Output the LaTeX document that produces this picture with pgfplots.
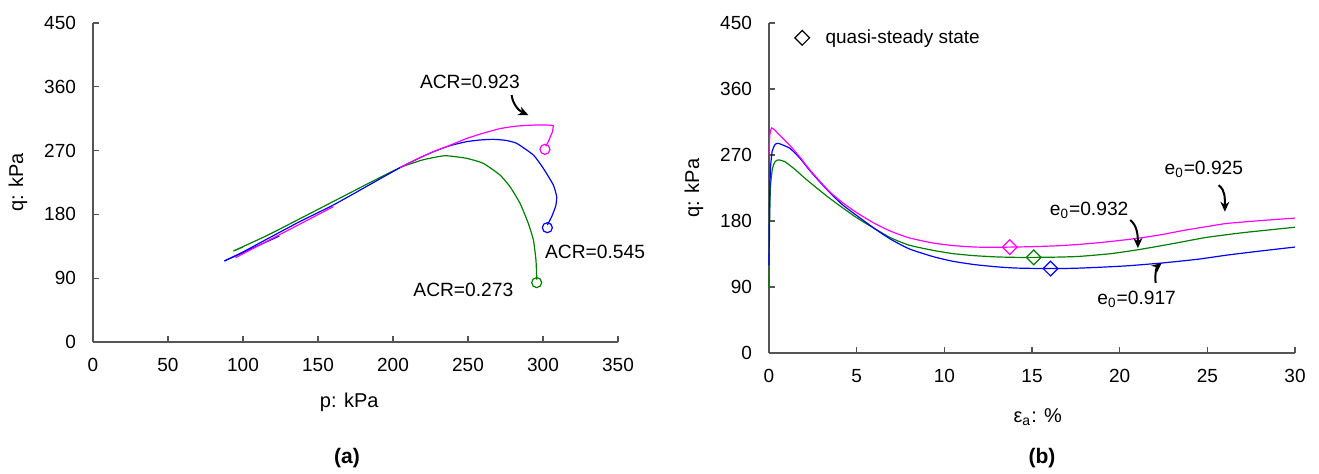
\documentclass[border=0pt]{standalone}
\usepackage{fontspec}
\setmainfont{Liberation Sans}
\usepackage{pgfplots}
\pgfplotsset{compat=1.18}
\usetikzlibrary{arrows.meta}
\definecolor{mag}{RGB}{255,0,255}
\definecolor{blu}{RGB}{0,0,255}
\definecolor{grn}{RGB}{0,128,0}
\definecolor{axgray}{RGB}{85,85,85}
\pgfplotsset{
 myax/.style={
  scale only axis,
  axis lines=left,
  axis line style={-, draw=axgray, line width=0.8pt},
  tick style={draw=axgray, line width=0.6pt},
  tick align=inside,
  major tick length=3pt,
  ymin=0, ymax=450, ytick={0,90,...,450},
  enlargelimits=false,
  tick label style={font=\fontsize{9.5}{11}\selectfont},
  /pgf/number format/assume math mode=true,
  yticklabel style={xshift=-5pt},
  xticklabel style={yshift=-4.5pt},
  label style={font=\fontsize{10}{12}\selectfont},
  clip=false,
 },
 cur/.style={line width=0.6pt, no marks},
}
\tikzset{
 arr/.style={-{Stealth[length=5pt,width=4.5pt]}, line width=1pt, black},
 ann/.style={font=\fontsize{9.6}{11}\selectfont, inner sep=0pt},
}
\begin{document}
\begin{tikzpicture}
\useasboundingbox (0,0) rectangle (659.5pt,236.5pt);
% ---------------- (a) ----------------
\begin{axis}[myax, at={(46.5pt,65.5pt)}, anchor=south west,
  width=262.5pt, height=159.5pt,
  xmin=0, xmax=350, xtick={0,50,...,350},
  xlabel={p: kPa}, ylabel={q: kPa},
  xlabel style={at={(axis description cs:0.488,-0.188)}, anchor=center},
  ylabel style={at={(axis description cs:-0.143,0.5)}, anchor=center}]
% green
\addplot[cur, grn, smooth, tension=0.3] coordinates {
(93.6,128.4)(100,134)(93.6,128.4)(115.8,150)(138,174)(160,198)(182,222)(204.7,246)(220,257)(234.7,262.8)(249.1,259.1)(260.2,252)(271.3,235.6)(278,219.1)(284.7,195.6)(290.2,167.4)(293.6,143.9)(295.3,115.7)(295.8,92.2)(295.8,88)};
% blue
\addplot[cur, blu] coordinates {(87.6,114.3)(124.2,149.5)};
\addplot[cur, blu, smooth, tension=0.3] coordinates {
(87.6,114.3)(100,127)(115.8,145)(138,170)(160,193)(182,219)(204.7,246)(216,258)(226.9,268.4)(238,277)(249,282.6)(258,285)(266.9,285.9)(275,284.5)(282.4,280.3)(293.6,263.8)(300.2,245)(306.9,221.5)(309.1,205)(308.5,192)(305.8,176.8)(302.9,165)};
% magenta
\addplot[cur, mag] coordinates {(95,119)(160.2,190.9)};
\addplot[cur, mag, smooth, tension=0.3] coordinates {
(204.7,246)(216,258)(226.9,268.4)(238,277.5)(249,287)(260,294.5)(271.3,301)(282,304.5)(293.6,306)(302,306.2)};
\addplot[cur, mag] coordinates {(302,306.2)(306.9,305.5)(306.4,297)(303.6,283)(301.8,276)};
% end circles
\addplot[only marks, mark=o, mark size=2.5pt, mag, line width=0.6pt] coordinates {(301.3,271.8)};
\addplot[only marks, mark=o, mark size=2.5pt, blu, line width=0.6pt] coordinates {(302.9,161.3)};
\addplot[only marks, mark=o, mark size=2.5pt, grn, line width=0.6pt] coordinates {(295.8,83.8)};
\node[ann] at (axis cs:251.3,367.2) {ACR=0.923};
\node[ann] at (axis cs:334.7,127.4) {ACR=0.545};
\node[ann] at (axis cs:246.9,73.4) {ACR=0.273};
\draw[arr] (axis cs:279.1,348.4) .. controls (axis cs:279.6,338) and (axis cs:283,327) .. (axis cs:290.2,320.2);
\end{axis}
% ---------------- (b) ----------------
\begin{axis}[myax, at={(384.5pt,60pt)}, anchor=south west,
  width=263pt, height=165pt,
  xmin=0, xmax=30, xtick={0,5,...,30},
  xlabel={ε\textsubscript{a}: \%}, ylabel={q: kPa},
  xlabel style={at={(axis description cs:0.511,-0.194)}, anchor=center},
  ylabel style={at={(axis description cs:-0.1426,0.5)}, anchor=center},
  legend style={at={(axis description cs:0.037,1.006)}, anchor=north west, draw=none, fill=none,
    font=\fontsize{9.5}{11}\selectfont, /tikz/every odd column/.append style={column sep=6pt}},
  legend cell align=left]
\addlegendimage{only marks, mark=square, mark options={rotate=45, fill=white, draw=black}, mark size=2.6pt, line width=0.6pt}
\addlegendentry{quasi-steady state}
% green
\addplot[cur, grn, smooth, tension=0.35] coordinates {
(0,88)(0.03,170)(0.08,225)(0.2,252)(0.35,261)(0.53,263.3)(0.9,261)(1.5,250)(2.16,236)(3.35,213)(4.2,198)(5.03,184)(6,170)(6.95,157)(8,147)(9.35,140)(10.5,135.5)(11.74,132.7)(13,131)(14.14,130.4)(15.1,130.4)(16.5,130.8)(17.73,131.8)(19.5,135.5)(21.09,141)(23,149)(24.92,157.5)(27,164)(30,171.5)};
% blue
\addplot[cur, blu, smooth, tension=0.35] coordinates {
(0,120)(0.03,200)(0.08,250)(0.18,275)(0.35,284.5)(0.53,285.9)(0.8,283.5)(1.2,279)(1.77,265.5)(2.34,248.5)(2.91,233)(3.5,218)(4.2,202)(5.03,187)(6,170)(6.95,155)(8,142)(9.35,131.5)(10.5,125)(11.74,120.5)(13,117.5)(14.14,115.8)(16.06,115.1)(17.5,115.6)(18.93,117)(20.5,119)(22.53,123)(24.5,128)(26.12,133.5)(28,139)(30,144.5)};
% magenta
\addplot[cur, mag, smooth, tension=0.35] coordinates {
(0,272)(0.05,298)(0.15,307)(0.35,303.5)(0.63,296.4)(1.2,282.8)(1.77,266.9)(2.34,249.5)(2.91,234)(3.5,219)(4.2,205)(5.03,191)(6,177)(6.95,166)(8,157)(9.35,150)(10.5,146.5)(11.74,144.5)(12.8,144.2)(13.73,144.4)(15,145)(16.53,146.3)(17.8,148.3)(18.93,150.7)(20,153.5)(21.09,156.6)(22.4,161.5)(23.72,167.5)(25,172.5)(26.12,176.7)(28,180.5)(30,184)};
% quasi-steady state points
\addplot[only marks, mark=square, mark options={rotate=45, fill=white}, mark size=2.6pt, mag, line width=0.6pt] coordinates {(13.73,144.4)};
\addplot[only marks, mark=square, mark options={rotate=45, fill=white}, mark size=2.6pt, grn, line width=0.6pt] coordinates {(15.1,130.4)};
\addplot[only marks, mark=square, mark options={rotate=45, fill=white}, mark size=2.6pt, blu, line width=0.6pt] coordinates {(16.06,115.1)};
\node[ann] at (axis cs:24.8,251) {e\textsubscript{0}=0.925};
\node[ann] at (axis cs:18.26,194) {e\textsubscript{0}=0.932};
\node[ann] at (axis cs:20.97,73.1) {e\textsubscript{0}=0.917};
\draw[arr] (axis cs:25.64,228.8) .. controls (axis cs:26.05,222) and (axis cs:26.0,210) .. (axis cs:26.0,192.7);
\draw[arr] (axis cs:20.6,181.4) .. controls (axis cs:21.0,174) and (axis cs:21.04,160) .. (axis cs:21.04,143.1);
\draw[arr] (axis cs:22.05,95.7) .. controls (axis cs:22.0,108) and (axis cs:22.1,117) .. (axis cs:22.4,122.8);
\end{axis}
\node[font=\bfseries\fontsize{10.5}{12}\selectfont] at (173.5pt,7.5pt) {(a)};
\node[font=\bfseries\fontsize{10.5}{12}\selectfont] at (521pt,7.5pt) {(b)};
\end{tikzpicture}
\end{document}
